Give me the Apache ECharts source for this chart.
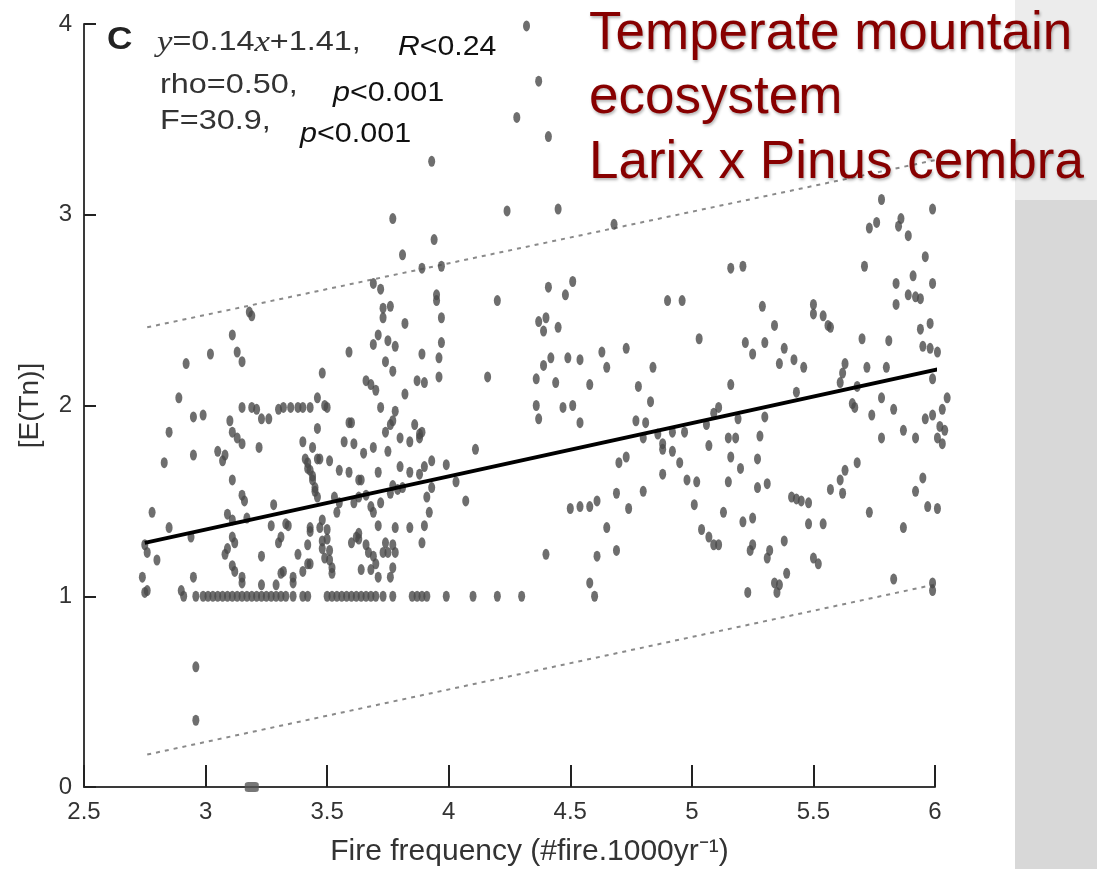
<!DOCTYPE html>
<html><head><meta charset="utf-8">
<script src="https://cdn.jsdelivr.net/npm/echarts@6/dist/echarts.min.js"></script>
<style>html,body{margin:0;padding:0;background:#fff;}#c{width:1097px;height:869px;}</style>
</head><body><div id="c"></div>
<script>
// ---- data ----
const xTickLabels = ['2.5','3','3.5','4','4.5','5','5.5','6'];
const yTickLabels = ['0','1','2','3','4'];

// points with x < 3.5
const ptsA = [[3.18,2.49],[3.19,2.47],[3.11,2.37],[3.02,2.27],[3.13,2.28],[3.15,2.23],[2.92,2.22],[3.48,2.17],[2.89,2.04],
[3.15,1.99],[3.19,1.99],[3.21,1.98],[3.23,1.93],[3.26,1.93],[3.30,1.98],[3.32,1.99],[3.35,1.99],[3.38,1.99],[3.40,1.99],[3.43,1.99],[3.46,2.04],[3.49,2.0],
[2.95,1.94],[2.99,1.95],[3.10,1.92],[3.46,1.88],[2.85,1.86],[3.11,1.86],[3.13,1.83],[3.15,1.80],[2.95,1.74],[3.05,1.76],[3.08,1.74],[3.07,1.71],[3.22,1.78],[2.83,1.70],[3.11,1.61],[3.15,1.53],[3.16,1.50],
[3.40,1.81],[3.44,1.78],[3.46,1.72],[3.42,1.70],[3.43,1.66],[3.44,1.61],[3.45,1.57],[3.41,1.72],[3.42,1.67],[3.44,1.63],[3.47,1.72],[3.46,1.52],[3.45,1.55],
[2.78,1.44],[2.85,1.36],[2.75,1.27],[2.76,1.23],[2.80,1.19],[2.74,1.10],[2.76,1.03],[2.94,1.31],[2.95,1.10],[2.90,1.03],[2.75,1.02],
[3.09,1.43],[3.11,1.40],[3.17,1.41],[3.09,1.25],[3.08,1.22],[3.11,1.31],[3.12,1.28],[3.11,1.16],[3.12,1.13],[3.15,1.10],[3.15,1.07],[3.23,1.21],[3.23,1.06],[3.28,1.48],[3.34,1.37],[3.31,1.31],[3.30,1.28],[3.32,1.13],[3.31,1.12],[3.36,1.07],[3.42,1.27],[3.43,1.34],[3.40,1.13],[3.43,1.17],[3.47,1.36],[3.48,1.25],[3.49,1.20],[3.27,1.37],[3.38,1.22],[3.29,1.06],
[3.33,1.38],[3.43,1.36],[3.48,1.40],[3.48,1.29],[3.42,1.17],[3.36,1.10]];

// points with 3.5 <= x < 4
const ptsB = [[3.77,2.98],[3.81,2.79],[3.89,2.72],[3.69,2.64],[3.72,2.61],[3.73,2.51],[3.73,2.46],[3.76,2.52],[3.82,2.43],[3.71,2.37],[3.69,2.32],[3.75,2.34],[3.78,2.31],[3.89,2.27],[3.59,2.28],[3.74,2.23],[3.77,2.18],[3.87,2.13],[3.90,2.12],[3.66,2.13],[3.68,2.11],[3.70,2.08],[3.82,2.06],[3.50,1.99],[3.60,1.91],[3.72,1.99],[3.74,1.86],[3.77,1.92],[3.78,1.97],[3.76,1.90],[3.86,1.90],[3.89,1.86],
[3.94,2.87],[3.97,2.73],[3.95,2.58],[3.95,2.55],[3.97,2.46],[3.97,2.33],[3.96,2.25],[3.96,2.15],[3.93,3.28],
[3.88,1.85],[3.93,1.71],[3.90,1.68],[3.88,1.64],[3.99,1.69],[3.93,1.57],[3.91,1.52],[3.92,1.44],[3.90,1.37],[3.89,1.28],
[3.51,1.71],[3.55,1.66],[3.59,1.65],[3.63,1.61],[3.57,1.81],[3.61,1.80],[3.65,1.75],[3.69,1.78],[3.75,1.76],[3.71,1.65],[3.80,1.83],[3.84,1.81],[3.88,1.83],[3.80,1.68],[3.84,1.65],[3.77,1.58],[3.81,1.57],[3.59,1.91],
[3.50,1.35],[3.50,1.30],[3.51,1.24],[3.51,1.19],[3.52,1.15],[3.52,1.12],[3.54,1.44],[3.55,1.49],[3.53,1.52],[3.60,1.28],[3.62,1.31],[3.61,1.49],[3.63,1.52],[3.66,1.53],[3.68,1.47],[3.69,1.44],[3.72,1.49],[3.66,1.27],[3.69,1.21],[3.70,1.17],[3.68,1.14],[3.73,1.23],[3.74,1.28],[3.77,1.27],[3.78,1.23],[3.77,1.15],[3.76,1.10],[3.84,1.36],
[3.63,1.33],[3.63,1.30],[3.67,1.23],[3.71,1.37],[3.78,1.36],[3.75,1.23],[3.64,1.14],[3.71,1.10],[3.76,1.54],[3.79,1.56],[3.64,1.61]];

// points with 4 <= x < 5
const ptsC = [[4.32,3.99],[4.37,3.70],[4.28,3.51],[4.41,3.41],[4.24,3.02],[4.45,3.03],[4.68,2.95],[4.20,2.55],[4.41,2.62],[4.51,2.65],[4.48,2.58],[4.90,2.55],[4.96,2.55],[4.37,2.44],[4.40,2.46],[4.39,2.39],[4.45,2.41],[4.16,2.15],[4.36,2.14],[4.39,2.21],[4.42,2.25],[4.44,2.12],[4.49,2.25],[4.54,2.24],[4.58,2.11],[4.63,2.28],[4.65,2.20],[4.73,2.30],[4.78,2.10],[4.84,2.20],
[4.36,2.0],[4.37,1.93],[4.47,1.99],[4.51,2.0],[4.54,1.91],[4.83,2.02],[4.77,1.92],[4.81,1.91],[4.80,1.83],[4.86,1.85],[4.88,1.80],[4.88,1.77],[4.92,1.76],[4.95,1.70],[4.97,1.86],[4.92,1.86],[4.88,1.64],[4.98,1.61],
[4.11,1.77],[4.03,1.60],[4.07,1.50],[4.50,1.46],[4.54,1.47],[4.58,1.47],[4.61,1.50],[4.69,1.54],[4.74,1.46],[4.80,1.55],[4.70,1.70],[4.73,1.73],[4.65,1.36],[4.40,1.22],[4.61,1.21],[4.69,1.24],[4.58,1.07],[4.60,1.0]];

// points with x >= 5
const ptsD = [[5.03,2.35],[5.78,3.08],[5.99,3.03],[5.73,2.93],[5.76,2.96],[5.86,2.98],[5.85,2.94],[5.89,2.89],[5.96,2.78],[5.71,2.73],[5.91,2.68],[5.99,2.64],[5.84,2.64],[5.84,2.53],[5.89,2.58],[5.92,2.57],[5.94,2.56],[5.16,2.72],[5.21,2.73],[5.29,2.52],[5.34,2.42],[5.50,2.53],[5.50,2.48],[5.54,2.47],[5.56,2.42],[5.57,2.41],[5.22,2.33],[5.25,2.27],[5.30,2.33],[5.38,2.30],[5.36,2.22],[5.42,2.24],[5.46,2.20],[5.70,2.35],[5.81,2.34],[5.94,2.40],[5.98,2.43],[5.95,2.31],[5.98,2.30],[6.01,2.28],[5.72,2.20],[5.80,2.20],[5.63,2.22],[5.62,2.17],[5.61,2.12],[5.16,2.11],[5.43,2.07],[5.68,2.10],[5.99,2.14],[6.05,2.04],[6.03,1.98],[5.11,1.99],[5.09,1.96],[5.19,1.93],[5.30,1.94],[5.66,2.01],[5.67,1.99],[5.78,2.04],[5.74,1.95],[5.83,1.98],[5.99,1.95],[5.96,1.93],[6.02,1.89],[6.04,1.87],[6.01,1.83],[6.03,1.80],[5.06,1.90],[5.15,1.83],[5.18,1.83],[5.28,1.84],[5.78,1.83],[5.87,1.87],[5.92,1.83],[5.07,1.79],
[5.16,1.73],[5.27,1.72],[5.20,1.67],[5.02,1.60],[5.15,1.60],[5.27,1.57],[5.31,1.59],[5.01,1.48],[5.13,1.44],[5.21,1.39],[5.25,1.41],[5.41,1.52],[5.43,1.51],[5.45,1.50],[5.48,1.49],[5.48,1.38],[5.54,1.38],[5.04,1.35],[5.07,1.31],[5.09,1.27],[5.11,1.27],[5.38,1.29],[5.24,1.24],[5.25,1.27],[5.32,1.24],[5.31,1.20],[5.50,1.20],[5.52,1.17],[5.39,1.12],[5.34,1.07],[5.36,1.06],[5.35,1.02],[5.23,1.02],[5.57,1.56],[5.61,1.61],[5.63,1.66],[5.68,1.70],[5.62,1.54],[5.73,1.44],[5.87,1.36],[5.92,1.55],[5.95,1.62],[5.97,1.47],[6.01,1.46],[5.83,1.09],[5.99,1.07],[5.99,1.03]];

// points lying on E(Tn) = 1
const rowOneX = [2.91,2.96,2.99,3.01,3.03,3.05,3.07,3.09,3.11,3.13,3.15,3.17,3.19,3.21,3.23,3.25,3.27,3.29,3.31,3.33,3.36,3.40,3.42,3.50,3.52,3.54,3.56,3.58,3.60,3.62,3.64,3.66,3.68,3.70,3.73,3.77,3.85,3.87,3.89,3.91,3.99,4.10,4.20,4.30];
// low points
const ptsLow = [[2.96,0.63],[2.96,0.35]];
const ptsZero = [[3.19,0]];

// fitted line and bounds
const fitLine = [[2.75,1.28],[6.05,2.20]];
const upperLine = [[2.76,2.41],[6.05,3.30]];
const lowerLine = [[2.76,0.17],[6.03,1.07]];

// ---- chart ----
const allPts = ptsA.concat(ptsB, ptsC, ptsD, rowOneX.map(x => [x, 1]), ptsLow);
const FONT = 'Liberation Sans, Arial, Helvetica, sans-serif';
const SERIF = 'Liberation Serif, Times New Roman, serif';
const shadow = {textShadowColor: 'rgba(0,0,0,0.3)', textShadowBlur: 3, textShadowOffsetX: 1, textShadowOffsetY: 2};
const titleStyle = t => Object.assign({text: t, fontSize: 53, fontFamily: FONT, fill: '#870000', verticalAlign: 'middle'}, shadow);
const chart = echarts.init(document.getElementById('c'), null, {renderer: 'canvas'});
chart.setOption({
  animation: false,
  backgroundColor: '#ffffff',
  grid: {left: 84, top: 24, width: 851, height: 763, outerBoundsMode: 'none', containLabel: false},
  xAxis: {
    type: 'value', min: 2.5, max: 6, interval: 0.5,
    axisLine: {lineStyle: {color: '#3a3a3a', width: 2}},
    axisTick: {inside: true, length: 22, lineStyle: {color: '#222', width: 2}},
    axisLabel: {fontSize: 24, color: '#333', margin: 13, fontFamily: FONT,
      formatter: v => xTickLabels[Math.round((v - 2.5) / 0.5)]},
    splitLine: {show: false},
    name: 'Fire frequency (#fire.1000yr⁻¹)', nameLocation: 'middle', nameGap: 50,
    nameTextStyle: {fontSize: 30, color: '#333', fontFamily: FONT, padding: [0, 0, 0, 40]}
  },
  yAxis: {
    type: 'value', min: 0, max: 4, interval: 1,
    axisLine: {lineStyle: {color: '#3a3a3a', width: 2}},
    axisTick: {inside: true, length: 12, lineStyle: {color: '#222', width: 2}},
    axisLabel: {fontSize: 24, color: '#333', margin: 12, fontFamily: FONT,
      formatter: v => yTickLabels[Math.round(v)]},
    splitLine: {show: false},
    name: '[E(Tn)]', nameLocation: 'middle', nameGap: 40,
    nameTextStyle: {fontSize: 28, color: '#333', fontFamily: FONT}
  },
  graphic: [
    {type: 'rect', z: -10, shape: {x: 1015, y: 0, width: 82, height: 200}, style: {fill: '#ececec'}},
    {type: 'rect', z: -10, shape: {x: 1015, y: 200, width: 82, height: 669}, style: {fill: '#d8d8d8'}},
    {type: 'text', z: 50, x: 107, y: 40, scaleX: 1.1, style: {text: 'C', fontSize: 32, fontWeight: 'bold', fontFamily: FONT, fill: '#222', verticalAlign: 'middle'}},
    {type: 'text', z: 50, x: 157, y: 43, scaleX: 1.2, style: {text: '{i|y}=0.14{i|x}+1.41,', fontSize: 27, fontFamily: FONT, fill: '#333', verticalAlign: 'middle',
      rich: {i: {fontFamily: SERIF, fontStyle: 'italic', fontSize: 29, fill: '#333'}}}},
    {type: 'text', z: 50, x: 398, y: 47, scaleX: 1.08, style: {text: '{i|R}<0.24', fontSize: 28, fontFamily: FONT, fill: '#111', verticalAlign: 'middle',
      rich: {i: {fontStyle: 'italic', fontSize: 28, fontFamily: FONT, fill: '#111'}}}},
    {type: 'text', z: 50, x: 160, y: 86, scaleX: 1.2, style: {text: 'rho=0.50,', fontSize: 27, fontFamily: FONT, fill: '#333', verticalAlign: 'middle'}},
    {type: 'text', z: 50, x: 333, y: 93, scaleX: 1.09, style: {text: '{i|p}<0.001', fontSize: 28, fontFamily: FONT, fill: '#111', verticalAlign: 'middle',
      rich: {i: {fontStyle: 'italic', fontSize: 28, fontFamily: FONT, fill: '#111'}}}},
    {type: 'text', z: 50, x: 160, y: 122, scaleX: 1.2, style: {text: 'F=30.9,', fontSize: 27, fontFamily: FONT, fill: '#333', verticalAlign: 'middle'}},
    {type: 'text', z: 50, x: 300, y: 134, scaleX: 1.09, style: {text: '{i|p}<0.001', fontSize: 28, fontFamily: FONT, fill: '#111', verticalAlign: 'middle',
      rich: {i: {fontStyle: 'italic', fontSize: 28, fontFamily: FONT, fill: '#111'}}}},
    {type: 'text', z: 100, x: 589, y: 34, style: titleStyle('Temperate mountain')},
    {type: 'text', z: 100, x: 589, y: 98, style: titleStyle('ecosystem')},
    {type: 'text', z: 100, x: 589, y: 163, style: titleStyle('Larix x Pinus cembra')}
  ],
  series: [
    {type: 'line', data: upperLine, showSymbol: false, symbol: 'none', clip: false, z: 1,
      lineStyle: {color: '#8a8a8a', width: 2, type: [4, 5]}},
    {type: 'line', data: lowerLine, showSymbol: false, symbol: 'none', clip: false, z: 1,
      lineStyle: {color: '#8a8a8a', width: 2, type: [4, 5]}},
    {type: 'scatter', data: allPts, symbol: 'circle', symbolSize: [7, 11], clip: false, z: 2,
      itemStyle: {color: '#4a4a4a'}},
    {type: 'scatter', data: ptsZero, symbol: 'roundRect', symbolSize: [14, 10], clip: false, z: 2,
      itemStyle: {color: '#555'}},
    {type: 'line', data: fitLine, showSymbol: false, symbol: 'none', clip: false, z: 3,
      lineStyle: {color: '#000', width: 4}}
  ]
});
</script>
</body></html>
